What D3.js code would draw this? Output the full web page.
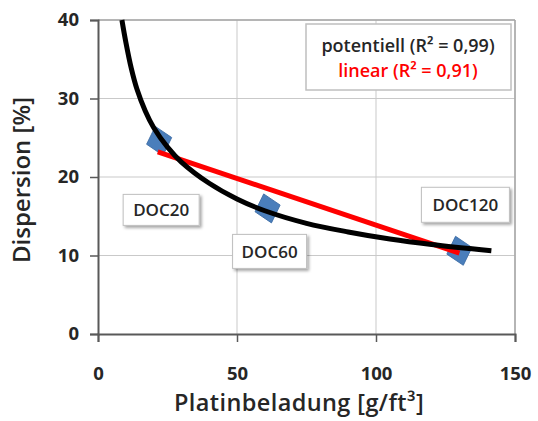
<!DOCTYPE html>
<html>
<head>
<meta charset="utf-8">
<script src="https://cdn.jsdelivr.net/npm/d3@7"></script>
<style>
  html, body { margin: 0; padding: 0; background: #fff; }
  svg text { font-family: "Open Sans", Lato, sans-serif; font-weight: 700; fill: #262626; }
</style>
</head>
<body>
<div id="chart"></div>
<script>
// measured points
const sampleNames = ["DOC20", "DOC60", "DOC120"];
const loading = [22, 61, 130];
const dispersion = [24.6, 16.0, 10.6];

// power trend line
const powerX = [8.6, 10, 12, 14, 17, 20, 25, 30, 40, 50, 60, 75, 90, 105, 120, 141.5];
const powerY = [40, 37.2, 33.8, 31.2, 28.4, 26.3, 23.8, 21.9, 19.2, 17.2, 15.7, 14.1, 13.0, 12.1, 11.4, 10.6];

// linear trend line
const linearX = [21.5, 130];
const linearY = [23.2, 10.3];

const xTicks = [0, 50, 100, 150];
const yTicks = [0, 10, 20, 30, 40];
const legendLines = ["potentiell (R² = 0,99)", "linear (R² = 0,91)"];

const width = 538, height = 421;
const margin = { top: 20, right: 23, bottom: 87, left: 98 };
const innerW = width - margin.left - margin.right;
const innerH = height - margin.top - margin.bottom;

const svg = d3.select("#chart").append("svg")
  .attr("width", width)
  .attr("height", height);

const defs = svg.append("defs");
const shadow = defs.append("filter").attr("id", "shadow")
  .attr("x", "-20%").attr("y", "-20%").attr("width", "150%").attr("height", "160%");
shadow.append("feDropShadow")
  .attr("dx", 2).attr("dy", 2).attr("stdDeviation", 1.5)
  .attr("flood-color", "#000").attr("flood-opacity", 0.35);

const g = svg.append("g").attr("transform", `translate(${margin.left},${margin.top})`);

const x = d3.scaleLinear().domain([0, 150]).range([0, innerW]);
const y = d3.scaleLinear().domain([0, 40]).range([innerH, 0]);

// grid
g.selectAll(".gx").data(xTicks.slice(1)).join("line")
  .attr("x1", d => x(d)).attr("x2", d => x(d))
  .attr("y1", 0).attr("y2", innerH)
  .attr("stroke", "#c9c9c9").attr("stroke-width", 1);
g.selectAll(".gy").data(yTicks.slice(1)).join("line")
  .attr("x1", 0).attr("x2", innerW)
  .attr("y1", d => y(d)).attr("y2", d => y(d))
  .attr("stroke", "#c9c9c9").attr("stroke-width", 1);
g.append("line").attr("x1", 0).attr("x2", innerW).attr("y1", 0).attr("y2", 0)
  .attr("stroke", "#a6a6a6").attr("stroke-width", 1.5);
g.append("line").attr("x1", innerW).attr("x2", innerW).attr("y1", 0).attr("y2", innerH)
  .attr("stroke", "#a6a6a6").attr("stroke-width", 1.5);

// axes
const xAxis = g.append("g").attr("transform", `translate(0,${innerH})`)
  .call(d3.axisBottom(x).tickValues(xTicks).tickSize(8).tickPadding(25));
const yAxis = g.append("g")
  .call(d3.axisLeft(y).tickValues(yTicks).tickSize(8).tickPadding(11));
[xAxis, yAxis].forEach(a => {
  a.select(".domain").attr("stroke", "#595959").attr("stroke-width", 2);
  a.selectAll(".tick line").attr("stroke", "#595959").attr("stroke-width", 1.5);
  a.selectAll(".tick text").attr("font-size", 18.5).attr("fill", "#262626")
    .style("font-family", "'Open Sans', sans-serif").style("font-weight", 700);
});

// axis titles
svg.append("text")
  .attr("x", 299).attr("y", 411)
  .attr("text-anchor", "middle").attr("font-size", 23.5).style("font-weight", 600)
  .attr("letter-spacing", 0.4)
  .text("Platinbeladung [g/ft³]");
svg.append("text")
  .attr("transform", `translate(30,${margin.top + innerH / 2 + 3}) rotate(-90)`)
  .attr("text-anchor", "middle").attr("font-size", 24).style("font-weight", 600)
  .text("Dispersion [%]");

// diamonds
const pts = sampleNames.map((name, i) => ({ name, x: loading[i], y: dispersion[i] }));
g.selectAll(".pt").data(pts).join("path")
  .attr("transform", d => `translate(${x(d.x)},${y(d.y)}) rotate(-15)`)
  .attr("d", "M0,-15 L13,0 L0,15 L-13,0 Z")
  .attr("fill", "#4a7ebb").attr("stroke", "#3c6ca5").attr("stroke-width", 0.8);

// linear trend
const linearPts = linearX.map((v, i) => [v, linearY[i]]);
g.append("path").datum(linearPts)
  .attr("d", d3.line().x(d => x(d[0])).y(d => y(d[1])))
  .attr("fill", "none").attr("stroke", "#ff0000").attr("stroke-width", 5)
  .attr("stroke-linecap", "butt");

// power trend
const powerPts = powerX.map((v, i) => [v, powerY[i]]);
g.append("path").datum(powerPts)
  .attr("d", d3.line().x(d => x(d[0])).y(d => y(d[1])).curve(d3.curveCatmullRom))
  .attr("fill", "none").attr("stroke", "#000").attr("stroke-width", 5);

// data labels
const labelOffset = { DOC20: [2, 69], DOC60: [2, 43], DOC120: [6, -46] };
const labelSize = { DOC20: [76, 31], DOC60: [74, 34], DOC120: [88, 35] };
const lab = g.selectAll(".lab").data(pts).join("g")
  .attr("transform", d => `translate(${x(d.x) + labelOffset[d.name][0]},${y(d.y) + labelOffset[d.name][1]})`);
lab.append("rect")
  .attr("x", d => -labelSize[d.name][0] / 2).attr("y", d => -labelSize[d.name][1] / 2)
  .attr("width", d => labelSize[d.name][0]).attr("height", d => labelSize[d.name][1])
  .attr("fill", "#fff").attr("stroke", "#bfbfbf").attr("stroke-width", 1)
  .attr("filter", "url(#shadow)");
lab.append("text")
  .attr("text-anchor", "middle").attr("dy", "0.36em")
  .attr("font-size", 17).style("font-weight", 600)
  .text(d => d.name);

// legend box
const lg = svg.append("g").attr("transform", "translate(306,24)");
lg.append("rect").attr("width", 205).attr("height", 66)
  .attr("fill", "#fff").attr("stroke", "#bfbfbf").attr("stroke-width", 1.5);
lg.selectAll("text").data(legendLines).join("text")
  .attr("x", 102).attr("y", (d, i) => 22 + i * 25)
  .attr("text-anchor", "middle").attr("dy", "0.36em")
  .attr("font-size", 18).style("font-weight", 600)
  .style("fill", (d, i) => i === 0 ? "#262626" : "#ff0000")
  .text(d => d);
</script>
</body>
</html>
